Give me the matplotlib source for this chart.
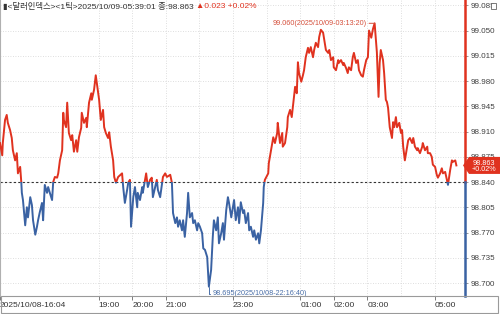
import numpy as np
import matplotlib.pyplot as plt
from matplotlib.patches import Rectangle, Polygon

plt.rcParams['font.family'] = ['Liberation Sans', 'Noto Sans CJK KR', 'DejaVu Sans']

# minutos depois de 2025/10/08 16:04 e preco do indice do dolar (1 tick)
tempoA = [0, 4, 5, 9, 12, 14, 18, 21, 23, 27,
          30, 32, 36, 38, 39, 41, 45, 48, 50, 54,
          57, 59, 63, 66, 68, 71, 75, 77, 80, 84,
          86, 89, 93, 95, 98, 102, 104, 107, 111, 113,
          114, 118, 120, 123, 127, 129, 132, 136, 138, 141,
          145, 146, 150, 154, 155, 159, 163, 164, 168, 171,
          175, 177, 180, 184, 186, 189, 193, 195, 198, 202,
          204, 207]
precoA = [98.894, 98.877, 98.894, 98.926, 98.933, 98.922, 98.912, 98.901, 98.884, 98.870,
          98.880, 98.852, 98.861, 98.840, 98.825, 98.815, 98.780, 98.805, 98.791, 98.819,
          98.808, 98.787, 98.767, 98.778, 98.787, 98.798, 98.811, 98.787, 98.836, 98.825,
          98.833, 98.825, 98.815, 98.840, 98.847, 98.846, 98.852, 98.870, 98.884, 98.936,
          98.926, 98.916, 98.950, 98.908, 98.898, 98.905, 98.882, 98.898, 98.882, 98.902,
          98.915, 98.936, 98.922, 98.929, 98.916, 98.950, 98.963, 98.954, 98.968, 98.988,
          98.965, 98.954, 98.926, 98.940, 98.916, 98.908, 98.901, 98.909, 98.889, 98.870,
          98.847, 98.839]

tempoB = [211, 218, 220, 223, 227, 229, 232, 234, 238, 241,
          245, 246, 250, 254, 255, 261, 264, 268, 271, 273,
          277, 280, 282, 286, 289, 291, 295, 298, 304, 307,
          309, 313, 316, 318, 321, 325, 327, 330, 334, 336,
          339, 343, 345, 348, 352, 354, 357, 361, 363, 366,
          370, 371, 373, 377, 380, 382, 386, 389, 391, 395,
          398, 400, 404, 407, 409, 413, 416, 418, 421, 425,
          427, 430, 434, 436, 439, 443, 445, 448, 452, 454,
          457, 461, 463, 466, 470, 471]
precoB = [98.847, 98.852, 98.833, 98.811, 98.829, 98.839, 98.843, 98.778, 98.819, 98.833,
          98.805, 98.825, 98.815, 98.833, 98.825, 98.852, 98.833, 98.843, 98.846, 98.819,
          98.833, 98.843, 98.829, 98.819, 98.836, 98.847, 98.852, 98.847, 98.850, 98.839,
          98.797, 98.783, 98.791, 98.778, 98.787, 98.773, 98.787, 98.764, 98.797, 98.825,
          98.791, 98.797, 98.783, 98.787, 98.773, 98.783, 98.778, 98.769, 98.748, 98.746,
          98.736, 98.722, 98.695, 98.718, 98.764, 98.787, 98.773, 98.791, 98.755, 98.769,
          98.783, 98.760, 98.801, 98.819, 98.811, 98.791, 98.805, 98.815, 98.787, 98.805,
          98.783, 98.812, 98.797, 98.801, 98.783, 98.797, 98.773, 98.778, 98.764, 98.773,
          98.760, 98.769, 98.755, 98.773, 98.811, 98.833]

tempoC = [473, 479, 480, 484, 488, 491, 495, 496, 500, 504,
          505, 509, 513, 514, 518, 521, 523, 527, 530, 532,
          534, 538, 541, 543, 546, 550, 552, 555, 559, 561,
          564, 568, 570, 573, 577, 579, 582, 586, 588, 591,
          595, 596, 600, 604, 605, 609, 613, 614, 618, 621,
          623, 627, 630, 632, 636, 639, 641, 645, 648, 650,
          654, 657, 659, 663, 666, 669, 671, 673, 676, 678,
          680]
precoC = [98.843, 98.852, 98.866, 98.884, 98.902, 98.894, 98.908, 98.922, 98.894, 98.908,
          98.889, 98.894, 98.916, 98.930, 98.940, 98.930, 98.944, 98.972, 98.963, 99.006,
          98.991, 98.979, 98.988, 98.995, 99.013, 99.026, 99.019, 99.027, 99.013, 99.023,
          99.033, 99.027, 99.041, 99.051, 99.047, 99.037, 99.023, 99.019, 99.023, 99.009,
          99.013, 98.999, 98.995, 99.009, 99.005, 99.009, 99.002, 99.005, 98.998, 98.991,
          98.999, 98.995, 99.013, 99.019, 99.005, 99.009, 98.995, 98.988, 98.986, 98.995,
          99.009, 99.013, 99.050, 99.040, 99.052, 99.060, 99.040, 99.020, 98.958, 99.005,
          99.023]

tempoD = [684, 686, 689, 691, 693, 696, 700, 702, 704, 707,
          709, 713, 716, 718, 720, 723, 727, 729, 732, 736,
          738, 741, 745, 746, 750, 754, 755, 759, 763, 764,
          768, 771, 773, 777, 780, 782, 786, 789, 791, 795,
          798, 800, 804, 807, 809, 813, 815]
precoD = [99.009, 98.991, 98.954, 98.951, 98.943, 98.916, 98.901, 98.923, 98.916, 98.930,
          98.916, 98.922, 98.908, 98.912, 98.889, 98.870, 98.889, 98.898, 98.901, 98.894,
          98.901, 98.889, 98.884, 98.887, 98.880, 98.889, 98.894, 98.884, 98.889, 98.880,
          98.880, 98.875, 98.864, 98.861, 98.850, 98.846, 98.852, 98.859, 98.852, 98.854,
          98.843, 98.836, 98.857, 98.870, 98.868, 98.870, 98.863]

base = 98.840
ultimo = 98.863
variacao = 0.023
ticksY = [98.700, 98.735, 98.770, 98.805, 98.840, 98.875, 98.910, 98.945, 98.980, 99.015, 99.050, 99.085]
horas = [176, 236, 296, 356, 416, 476, 536, 596, 656, 716, 776]
posRotulos = [0, 176, 236, 296, 416, 536, 596, 656, 776]
rotulosX = ['2025/10/08-16:04', '19:00', '20:00', '21:00', '23:00', '01:00', '02:00', '03:00', '05:00']

tempo = np.array(tempoA + tempoB + tempoC + tempoD, dtype=float)
preco = np.array(precoA + precoB + precoC + precoD)

vermelho = '#e0321f'
azul = '#3a62a3'

fig = plt.figure(figsize=(5, 3.14), dpi=100)
ax = fig.add_axes([0, 18 / 314, 465 / 500, 296 / 314])
xMax = 830.4
yMin, yMax = 98.682, 99.0923
ax.set_xlim(0, xMax)
ax.set_ylim(yMin, yMax)

# grade pontilhada
for h in horas:
    ax.axvline(h, color='#d4d4d4', lw=0.6, ls=(0, (1, 2)), zorder=0)
for v in ticksY:
    ax.axhline(v, color='#d4d4d4', lw=0.6, ls=(0, (1, 2)), zorder=0)
ax.axhline(base, color='#333333', lw=0.8, ls=(0, (2, 2)), zorder=1)

# linha vermelha acima da base, azul abaixo
acima = Rectangle((-10, base), xMax + 20, 1, transform=ax.transData)
abaixo = Rectangle((-10, base - 1), xMax + 20, 1, transform=ax.transData)
l1, = ax.plot(tempo, preco, color=vermelho, lw=1.4, zorder=3)
l1.set_clip_path(acima)
l2, = ax.plot(tempo, preco, color=azul, lw=1.4, zorder=3)
l2.set_clip_path(abaixo)

# eixo da direita
for lado in ['top', 'bottom', 'right']:
    ax.spines[lado].set_visible(False)
ax.spines['left'].set_color('#b0b0b0')
fracBase = (base - yMin) / (yMax - yMin)
ax.axvline(xMax, ymin=fracBase, ymax=1, color=vermelho, lw=1.8, clip_on=False, zorder=4)
ax.axvline(xMax, ymin=0, ymax=fracBase, color=azul, lw=1.8, clip_on=False, zorder=4)

ax.yaxis.tick_right()
ax.set_yticks(ticksY, [f'{v:.3f}' for v in ticksY])
ax.tick_params(axis='y', length=2, width=0.6, color='#888888', pad=2, labelsize=5.8, labelcolor='#404040')

ax.set_xticks(posRotulos, rotulosX)
ax.tick_params(axis='x', length=3, width=0.6, color='#666666', pad=1, labelsize=6, labelcolor='#333333')
for lab in ax.get_xticklabels():
    lab.set_ha('left')

# faixa de baixo
fig.add_artist(Rectangle((0.5 / 500, 1 / 314), 497 / 500, 17 / 314, transform=fig.transFigure,
                         fill=False, ec='#9a9a9a', lw=0.8))
fig.add_artist(Rectangle((491 / 500, 1 - 9 / 314), 5 / 500, 6 / 314, transform=fig.transFigure,
                         fc='white', ec='#666666', lw=0.6, zorder=10))

# titulo
t1 = fig.text(3 / 500, 1 - 7 / 314, '▮<달러인덱스><1틱>2025/10/09-05:39:01 종:98.863',
              fontsize=6, color='#333333', va='center')
ax.annotate(f'▲{variacao:.3f} +0.02%', xy=(1, 0.5), xycoords=t1, xytext=(2, 0),
            textcoords='offset points', va='center', ha='left', color=vermelho, fontsize=6)

# maximo e minimo
iMax = np.argmax(preco)
iMin = np.argmin(preco)
ax.annotate(f'{preco[iMax]:.3f}(2025/10/09-03:13:20)', xy=(tempo[iMax], preco[iMax]),
            xytext=(-6, 0), textcoords='offset points', ha='right', va='center',
            fontsize=5.2, color='#d5503c',
            arrowprops=dict(arrowstyle='-', color='#d5503c', lw=0.7, shrinkA=0, shrinkB=0))
ax.annotate(f'{preco[iMin]:.3f}(2025/10/08-22:16:40)', xy=(tempo[iMin], preco[iMin]),
            xytext=(3, -5), textcoords='offset points', ha='left', va='center',
            fontsize=5.2, color='#4a6fa8',
            arrowprops=dict(arrowstyle='-', connectionstyle='angle,angleA=0,angleB=90,rad=0',
                            relpos=(0, 0.5), color='#4a6fa8', lw=0.7, shrinkA=0, shrinkB=0))

# etiqueta do ultimo preco
meia = 8.5 * (yMax - yMin) / 296
tr = ax.get_yaxis_transform()
ax.add_patch(Polygon([(1 - 2 / 465, ultimo), (1 + 4 / 465, ultimo + meia), (1 + 35 / 465, ultimo + meia),
                      (1 + 35 / 465, ultimo - meia), (1 + 4 / 465, ultimo - meia)],
                     closed=True, transform=tr, fc=vermelho, ec='none', clip_on=False, zorder=6))
ax.annotate(f'{ultimo:.3f}\n+0.02%', xy=(1 + 19 / 465, ultimo), xycoords=tr, xytext=(0, -1),
            textcoords='offset points', ha='center', va='center', color='white',
            fontsize=5.2, linespacing=0.8, zorder=7, annotation_clip=False)

fig.savefig('out.png', dpi=100)
